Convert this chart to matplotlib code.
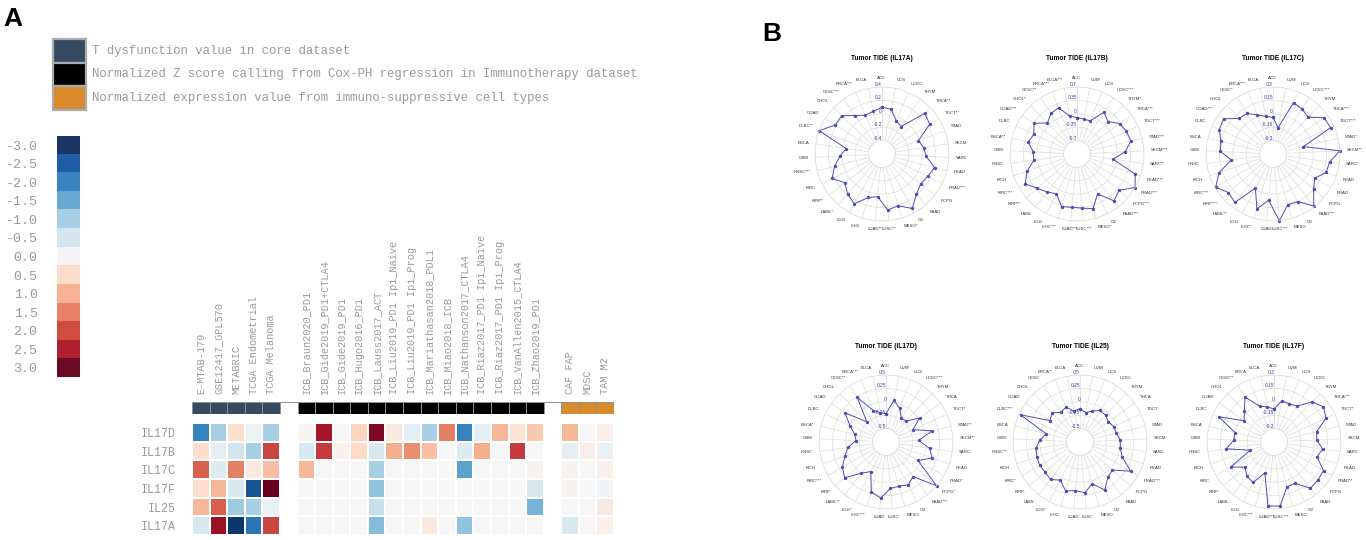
import matplotlib
matplotlib.use("Agg")
import matplotlib.pyplot as plt
import numpy as np
from matplotlib.colors import ListedColormap
from matplotlib.patches import Rectangle

W, H = 1366, 540

# ---------------- panel A data ----------------
genes = ["IL17D", "IL17B", "IL17C", "IL17F", "IL25", "IL17A"]
core_sets = ["E-MTAB-179", "GSE12417_GPL570", "METABRIC", "TCGA Endometrial", "TCGA Melanoma"]
icb_sets = ["ICB_Braun2020_PD1", "ICB_Gide2019_PD1+CTLA4", "ICB_Gide2019_PD1",
            "ICB_Hugo2016_PD1", "ICB_Lauss2017_ACT", "ICB_Liu2019_PD1 Ipi_Naive",
            "ICB_Liu2019_PD1 Ipi_Prog", "ICB_Mariathasan2018_PDL1", "ICB_Miao2018_ICB",
            "ICB_Nathanson2017_CTLA4", "ICB_Riaz2017_PD1 Ipi_Naive", "ICB_Riaz2017_PD1 Ipi_Prog",
            "ICB_VanAllen2015_CTLA4", "ICB_Zhao2019_PD1"]
cell_types = ["CAF FAP", "MDSC", "TAM M2"]

core_vals = [
    [-2.0, -1.0, 0.5, -0.15, -1.0],
    [0.5, -0.3, -0.6, -1.0, 2.0],
    [1.8, -0.4, 1.5, 0.3, 0.9],
    [0.5, 1.0, -0.5, -2.6, 3.0],
    [1.0, 1.8, -1.1, -1.0, -0.2],
    [-0.5, 2.6, -2.9, -2.2, 2.0],
]
icb_vals = [
    [0.05, 2.5, 0.0, 0.7, 2.8, 0.3, -0.3, -1.0, 1.5, -2.0, -0.3, 1.0, 0.4, 0.8],
    [-0.5, 2.1, 0.15, 0.6, -0.5, 1.1, 1.4, 0.9, 0.0, -0.4, 1.1, 0.0, 2.1, 0.0],
    [1.0, 0.0, 0.0, 0.0, -1.0, 0.0, 0.0, 0.0, 0.0, -1.6, 0.0, 0.0, 0.0, 0.1],
    [0.0, 0.0, 0.0, 0.0, -1.2, 0.0, 0.0, 0.0, 0.0, 0.0, 0.0, 0.0, 0.0, -0.5],
    [0.0, 0.0, 0.0, 0.0, -0.7, 0.0, 0.0, 0.0, 0.0, 0.0, 0.0, 0.0, 0.0, -1.4],
    [0.0, 0.0, 0.0, 0.0, -1.3, 0.0, 0.0, 0.3, 0.0, -1.2, 0.0, 0.0, 0.0, 0.0],
]
cell_vals = [
    [1.0, 0.0, 0.2],
    [-0.3, 0.2, -0.2],
    [0.1, 0.0, 0.15],
    [0.1, 0.0, -0.1],
    [0.0, 0.0, 0.3],
    [-0.5, 0.0, 0.15],
]
legend_labels = ["T dysfunction value in core dataset",
                 "Normalized Z score calling from Cox-PH regression in Immunotherapy dataset",
                 "Normalized expression value from immuno-suppressive cell types"]
group_colors = ["#374a63", "#000000", "#d98b2b"]
cbar_levels = [-3.0, -2.5, -2.0, -1.5, -1.0, -0.5, 0.0, 0.5, 1.0, 1.5, 2.0, 2.5, 3.0]
cbar_colors = ["#1b3562", "#1f5ea6", "#3984c0", "#68a9d2", "#a6cee4", "#d5e6f1", "#f4f4f6",
               "#fbdccb", "#f5b294", "#e7816a", "#cf4c43", "#af1f2e", "#6a0a24"]

# ---------------- panel B data ----------------
tide_17a_cats = ["ACC", "UCS", "UCEC", "THYM", "THCA**", "TGCT**", "STAD", "SKCM", "SARC", "READ",
                 "PRAD***", "PCPG", "PAAD", "OV", "MESO*", "LUSC**", "LUAD**", "LIHC", "LGG", "LAML*",
                 "KIRP*", "KIRC", "HNSC***", "GBM", "ESCA", "DLBC**", "COAD", "CHOL", "CESC***",
                 "BRCA***", "BLCA"]
tide_17a = [0.10, 0.08, -0.06, -0.10, 0.28, 0.24, -0.02, 0.03, 0.06, 0.21, 0.16, 0.13, 0.19, 0.33,
            0.21, 0.24, 0.04, 0.08, 0.25, 0.19, 0.10, 0.23, 0.13, 0.03, -0.06, 0.40, 0.22, 0.23,
            0.10, 0.03, 0.05]

tide_17b_cats = ["ACC", "UVM", "UCS", "UCEC***", "THYM*", "THCA***", "TGCT***", "STAD***", "SKCM***",
                 "SARC**", "READ***", "PRAD***", "PCPG***", "PAAD***", "OV", "MESO*", "LUSC***",
                 "LUAD***", "LIHC***", "LGG", "LAML", "KIRP**", "KIRC***", "KICH", "HNSC", "GBM",
                 "ESCA**", "DLBC", "COAD***", "CHOL*", "CESC**", "BRCA***", "BLCA***"]
tide_17b = [-0.10, -0.12, -0.12, 0.25, 0.12, 0.32, 0.37, 0.40, 0.21, -0.10, 0.56, 0.70, 0.40, 0.51,
            0.12, 0.44, 0.37, 0.35, 0.38, 0.12, 0.21, 0.32, 0.51, 0.33, 0.09, 0.09, 0.26, 0.19,
            0.33, 0.07, 0.21, 0.25, -0.04]

tide_17c_cats = ["ACC", "UVM", "UCS", "UCEC***", "THYM", "THCA***", "TGCT***", "STAD*", "SKCM**",
                 "SARC*", "READ", "PRAD", "PCPG", "PAAD***", "OV", "MESO", "LUSC***", "LUAD", "LIHC*",
                 "LGG", "LAML**", "KIRP***", "KIRC***", "KICH", "HNSC", "GBM", "ESCA", "DLBC",
                 "COAD***", "CHOL", "CESC*", "BRCA***", "BLCA"]
tide_17c = [-0.04, -0.15, 0.17, 0.15, 0.12, 0.25, 0.26, -0.10, 0.30, 0.19, 0.18, 0.09, 0.15, 0.29,
            0.15, 0.14, 0.30, 0.07, 0.19, -0.02, 0.24, 0.21, 0.29, 0.19, 0.02, 0.14, 0.15, 0.21,
            0.23, 0.10, 0.09, 0.02, -0.02]

tide_17d_cats = ["ACC", "UVM", "UCS", "UCEC***", "THYM", "THCA", "TGCT*", "STAD**", "SKCM**", "SARC",
                 "READ", "PRAD*", "PCPG*", "PAAD***", "OV", "MESO", "LUSC", "LUAD", "LIHC***", "LGG*",
                 "LAML**", "KIRP", "KIRC***", "KICH", "HNSC", "GBM", "ESCA*", "DLBC", "COAD", "CHOL",
                 "CESC**", "BRCA***", "BLCA"]
tide_17d = [-0.22, 0.04, -0.07, -0.22, -0.21, 0.02, -0.20, 0.14, -0.14, 0.07, 0.16, -0.06, 0.50,
            0.07, 0.15, 0.11, 0.12, 0.30, 0.22, -0.13, -0.01, 0.27, 0.19, 0.06, -0.03, -0.19,
            -0.15, -0.01, 0.19, -0.23, 0.24, -0.12, -0.19]

tide_25_cats = ["ACC", "UVM", "UCS", "UCEC", "THYM", "THCA", "TGCT", "STAD", "SKCM", "SARC", "READ",
                "PRAD***", "PCPG", "PAAD", "OV", "MESO", "LUSC", "LUAD", "LIHC", "LGG*", "LAML", "KIRP",
                "KIRC*", "KICH", "HNSC**", "GBM", "ESCA", "DLBC***", "COAD", "CHOL", "CESC", "BRCA**",
                "BLCA"]
tide_25 = [-0.13, -0.19, -0.13, -0.05, -0.06, -0.10, -0.06, -0.05, 0.0, 0.01, 0.08, 0.34, 0.05,
           0.09, 0.26, 0.06, 0.20, 0.16, 0.20, 0.05, 0.14, 0.11, 0.12, 0.10, 0.08, 0.0, -0.10,
           0.47, -0.06, 0.0, -0.09, -0.05, -0.16]

tide_17f_cats = ["ACC", "UVM", "UCS", "UCEC", "THYM", "THCA***", "TGCT*", "STAD", "SKCM", "SARC",
                 "READ", "PRAD**", "PCPG", "PAAD", "OV", "MESO", "LUSC***", "LUAD***", "LIHC***", "LGG",
                 "LAML", "KIRP", "KIRC", "KICH", "HNSC", "GBM", "ESCA", "DLBC", "COAD", "CHOL",
                 "CESC**", "BRCA", "BLCA"]
tide_17f = [-0.08, 0.02, 0.01, 0.03, 0.17, 0.23, 0.19, 0.04, 0.03, 0.10, 0.06, 0.19, 0.20, 0.21,
            0.07, 0.07, 0.27, 0.27, -0.09, 0.06, 0.04, -0.02, 0.11, -0.17, 0.09, 0.0, 0.0, 0.23,
            -0.04, 0.03, 0.15, -0.02, -0.05]

GREY = "#9a9a9a"
MONO = "Liberation Mono"
SANS = ["Liberation Sans", "DejaVu Sans"]


def px_rect(x0, y0, x1, y1):
    return [x0 / W, 1 - y1 / H, (x1 - x0) / W, (y1 - y0) / H]


fig = plt.figure(figsize=(W / 100, H / 100), dpi=100)

# pixel-space overlay for panel letters and legend
ov = fig.add_axes([0, 0, 1, 1])
ov.set_xlim(0, W)
ov.set_ylim(H, 0)
ov.axis("off")
ov.text(3, 19, "A", fontsize=19, fontweight="bold", family=SANS, va="center")
ov.text(762, 34, "B", fontsize=19, fontweight="bold", family=SANS, va="center")
for i, (lab, col) in enumerate(zip(legend_labels, group_colors)):
    y0 = 39 + i * 23.5
    ov.add_patch(Rectangle((53, y0), 33, 23.5, facecolor=col, edgecolor="#a9abae", lw=1.6))
    ov.text(92, y0 + 12, lab, family=MONO, fontsize=8.9, color=GREY, va="center")

# ---- discrete colour key ----
cax = fig.add_axes(px_rect(57, 136, 80, 377))
cax.imshow(np.arange(len(cbar_levels))[:, None], cmap=ListedColormap(cbar_colors),
           aspect="auto", interpolation="nearest")
cax.set_xticks([])
cax.set_yticks(range(len(cbar_levels)))
cax.set_yticklabels([f"{v:.1f}" for v in cbar_levels], family=MONO, fontsize=9.6, color=GREY)
cax.tick_params(axis="y", length=0, pad=14)
for s in cax.spines.values():
    s.set_visible(False)

# ---- heatmap ----
gap = [[np.nan] for _ in genes]
mat = np.hstack([np.array(core_vals), np.array(gap), np.array(icb_vals),
                 np.array(gap), np.array(cell_vals)])
col_labels = core_sets + [""] + icb_sets + [""] + cell_types
grp = ([0] * len(core_sets) + [np.nan] + [1] * len(icb_sets) + [np.nan] + [2] * len(cell_types))

hax = fig.add_axes(px_rect(192, 423, 614, 535))
hax.pcolormesh(np.ma.masked_invalid(mat), cmap="RdBu_r", vmin=-3, vmax=3,
               edgecolors="#ffffff", linewidth=0.35)
hax.set_xlim(0, mat.shape[1])
hax.set_ylim(len(genes), 0)
hax.set_xticks([])
hax.set_yticks(np.arange(len(genes)) + 0.5)
hax.set_yticklabels(genes, family=MONO, fontsize=8.4, color=GREY)
hax.tick_params(axis="y", length=0, pad=12)
for s in hax.spines.values():
    s.set_visible(False)

sax = fig.add_axes(px_rect(192, 402, 614, 414))
sax.pcolormesh(np.ma.masked_invalid(np.array([grp], dtype=float)),
               cmap=ListedColormap(group_colors), vmin=-0.5, vmax=2.5,
               edgecolors="#8f8f8f", linewidth=0.4)
sax.set_xlim(0, len(grp))
sax.set_ylim(0, 1)
sax.set_yticks([])
keep = [i for i, l in enumerate(col_labels) if l]
sax.set_xticks(np.array(keep) + 0.5)
sax.set_xticklabels([col_labels[i] for i in keep], rotation=90, family=MONO,
                    fontsize=7.4, color=GREY)
sax.xaxis.tick_top()
sax.tick_params(axis="x", length=0, pad=6)
for s in sax.spines.values():
    s.set_visible(False)

# ---------------- panel B radars ----------------
LINE = "#4d4db3"
TICKBLUE = "#3b3bb8"


def radar(cx, cy, title, cats, vals, lim):
    R = 67
    ax = fig.add_axes(px_rect(cx - R, cy - R, cx + R, cy + R), projection="polar")
    n = len(cats)
    theta = np.arange(n) * 2 * np.pi / n
    ax.set_theta_zero_location("N")
    ax.set_theta_direction(-1)
    ax.set_ylim(-lim, lim)
    ax.set_rorigin(-1.5 * lim)  # leaves the empty centre at 1/5 of the radius
    ticks = np.linspace(-lim, lim, 5)
    ax.set_yticks(ticks)
    ax.set_yticklabels([])
    ax.set_xticks(theta)
    ax.set_xticklabels([])
    ax.grid(color="#dcdcdc", lw=0.5)
    for s in ax.spines.values():
        s.set_color("#dcdcdc")
        s.set_linewidth(0.5)
    th = np.append(theta, theta[0])
    vv = np.append(vals, vals[0])
    ax.plot(th, vv, color=LINE, lw=0.7, marker="o", ms=1.4, clip_on=False)
    for tk in ticks:
        lab = "0" if abs(tk) < 1e-9 else f"{tk:g}"
        ax.text(0, tk, lab, color=TICKBLUE, fontsize=3.5, family=SANS,
                ha="right", va="bottom")
    r_lab = -1.5 * lim + 1.1 * 2.5 * lim
    for t, c in zip(theta, cats):
        sx, cy_ = np.sin(t), np.cos(t)
        ha = "left" if sx > 0.15 else ("right" if sx < -0.15 else "center")
        va = "bottom" if cy_ > 0.3 else ("top" if cy_ < -0.3 else "center")
        ax.text(t, r_lab, c, fontsize=3.1, family=SANS, color="#333333", ha=ha, va=va)
    ax.text(0.5, 1.215, title, transform=ax.transAxes, ha="center", va="center",
            fontsize=4.8, fontweight="bold", family=SANS)


radar(882, 154, "Tumor TIDE (IL17A)", tide_17a_cats, tide_17a, 0.4)
radar(1077, 154, "Tumor TIDE (IL17B)", tide_17b_cats, tide_17b, 0.7)
radar(1273, 154, "Tumor TIDE (IL17C)", tide_17c_cats, tide_17c, 0.3)
radar(886, 442, "Tumor TIDE (IL17D)", tide_17d_cats, tide_17d, 0.5)
radar(1080, 442, "Tumor TIDE (IL25)", tide_25_cats, tide_25, 0.5)
radar(1274, 442, "Tumor TIDE (IL17F)", tide_17f_cats, tide_17f, 0.3)

fig.savefig("out.png", dpi=100)
